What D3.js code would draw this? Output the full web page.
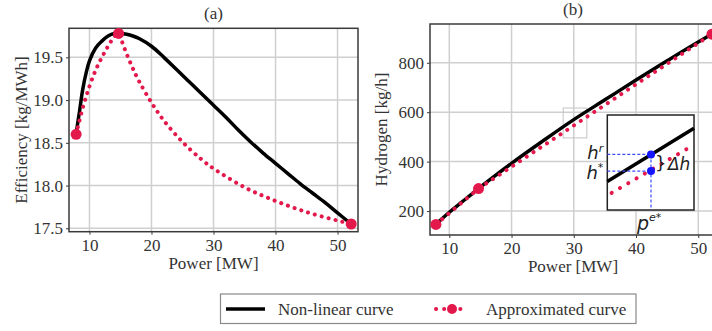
<!DOCTYPE html>
<html>
<head>
<meta charset="utf-8">
<script src="https://cdn.jsdelivr.net/npm/d3@7"></script>
<style>
  body { margin: 0; background: #fff; }
  svg { display: block; }
  text { font-family: "Liberation Serif", "Times New Roman", serif; fill: #333; }
  text.math, text.math tspan { font-family: "DejaVu Sans", sans-serif; font-style: italic; fill: #222; }
</style>
</head>
<body>
<svg id="chart" width="712" height="331"></svg>
<script>
"use strict";

// x ticks shared by both panels
var powerTicks = [10, 20, 30, 40, 50];
var effTicks = [17.5, 18.0, 18.5, 19.0, 19.5];
var hydroTicks = [200, 400, 600, 800];

// (a) non-linear efficiency curve
var powerA = [7.85, 8.1, 8.4, 8.9, 9.5, 10, 11, 12, 13, 14, 15, 16, 17, 18, 20, 22, 24, 26, 28, 30, 32, 34, 36, 38, 40, 42, 44, 46, 48, 50, 52.2];
var effNonLinear = [18.6, 18.73, 18.87, 19.12, 19.33, 19.46, 19.61, 19.69, 19.75, 19.78, 19.78, 19.77, 19.75, 19.72, 19.63, 19.5, 19.36, 19.22, 19.08, 18.94, 18.8, 18.65, 18.51, 18.38, 18.26, 18.14, 18.02, 17.91, 17.8, 17.68, 17.55];

// (a) approximated efficiency curve
var powerApproxA = [7.85, 9, 10, 11, 12, 13, 14, 14.7, 15, 16, 17, 18, 20, 22, 25, 28, 30, 35, 40, 45, 50, 52.2];
var effApprox = [18.6, 18.93, 19.16, 19.35, 19.5, 19.63, 19.74, 19.78, 19.73, 19.54, 19.37, 19.22, 18.97, 18.76, 18.51, 18.31, 18.2, 17.98, 17.82, 17.69, 17.59, 17.55];

// (b) hydrogen production
var powerB = [7.85, 10, 12, 14.7, 17, 20, 25, 30, 35, 40, 45, 50, 52.2];
var hydroNonLinear = [146, 195, 236, 291, 336, 393, 483, 570, 650, 730, 808, 884, 916];

// breakpoints of the piecewise linear approximation
var breakPower = [7.85, 14.7, 52.2];
var breakEff = [18.6, 19.78, 17.55];
var breakHydro = [146, 291, 916];

// zoomed inset (schematic, unit coordinates)
var insetBlack = [[0, 0.30], [1, 0.86]];
var insetRed = [[0.05, 0.18], [0.97, 0.67]];
var insetP = 0.504, insetHr = 0.585, insetHs = 0.41;

var RED = "#e3184b";
var GRID = "#cfcfcf";
var SPINE = "#3a3a3a";
var SERIF = "'Liberation Serif', 'Times New Roman', serif";

var svg = d3.select("#chart");

function panel(opts) {
    var g = svg.append("g");
    var x = d3.scaleLinear().domain(opts.xDomain).range([opts.left, opts.right]);
    var y = d3.scaleLinear().domain(opts.yDomain).range([opts.bottom, opts.top]);

    // grid
    g.append("g").selectAll("line").data(powerTicks).enter().append("line")
        .attr("x1", function(d) { return x(d); }).attr("x2", function(d) { return x(d); })
        .attr("y1", opts.top).attr("y2", opts.bottom)
        .attr("stroke", GRID).attr("stroke-width", 1.5);
    g.append("g").selectAll("line").data(opts.yTicks).enter().append("line")
        .attr("y1", function(d) { return y(d); }).attr("y2", function(d) { return y(d); })
        .attr("x1", opts.left).attr("x2", opts.right)
        .attr("stroke", GRID).attr("stroke-width", 1.5);

    // axes
    var xa = g.append("g").attr("transform", "translate(0," + opts.bottom + ")")
        .call(d3.axisBottom(x).tickValues(powerTicks).tickSize(3).tickPadding(4));
    var ya = g.append("g").attr("transform", "translate(" + opts.left + ",0)")
        .call(d3.axisLeft(y).tickValues(opts.yTicks).tickFormat(opts.yFormat).tickSize(3).tickPadding(3));
    [xa, ya].forEach(function(a) {
        a.attr("font-family", null).attr("font-size", null);
        a.select(".domain").remove();
        a.selectAll(".tick line").attr("stroke", SPINE);
        a.selectAll("text").style("font-family", SERIF)
            .style("font-size", "17px").style("fill", "#333");
    });

    // frame
    g.append("rect").attr("x", opts.left).attr("y", opts.top)
        .attr("width", opts.right - opts.left).attr("height", opts.bottom - opts.top)
        .attr("fill", "none").attr("stroke", SPINE).attr("stroke-width", 1.5);

    // labels
    g.append("text").attr("x", (opts.left + opts.right) / 2).attr("y", opts.top - 9)
        .attr("text-anchor", "middle").attr("font-size", 17).text(opts.title);
    g.append("text").attr("x", (opts.left + opts.right) / 2).attr("y", opts.bottom + 37)
        .attr("text-anchor", "middle").attr("font-size", 17).text("Power [MW]");
    g.append("text")
        .attr("transform", "translate(" + opts.ylabX + "," + (opts.top + opts.bottom) / 2 + ") rotate(-90)")
        .attr("text-anchor", "middle").attr("font-size", 17).text(opts.ylabel);

    return { g: g, x: x, y: y };
}

// ---------- panel (a)
var pa = panel({
    left: 69, right: 358, top: 28.3, bottom: 231.7,
    xDomain: [6.7, 53.3], yDomain: [17.46, 19.84],
    yTicks: effTicks, yFormat: d3.format(".1f"),
    title: "(a)", ylabel: "Efficiency [kg/MWh]", ylabX: 27
});

var lineA = d3.line().x(function(d) { return pa.x(d[0]); }).y(function(d) { return pa.y(d[1]); })
    .curve(d3.curveCatmullRom);
pa.g.append("path").datum(d3.zip(powerA, effNonLinear)).attr("d", lineA)
    .attr("fill", "none").attr("stroke", "#000").attr("stroke-width", 3.5);
pa.g.append("path").datum(d3.zip(powerApproxA, effApprox)).attr("d", lineA)
    .attr("fill", "none").attr("stroke", RED).attr("stroke-width", 4)
    .attr("stroke-linecap", "round").attr("stroke-dasharray", "0.1 7");
pa.g.selectAll("circle.bp").data(d3.zip(breakPower, breakEff)).enter().append("circle")
    .attr("cx", function(d) { return pa.x(d[0]); }).attr("cy", function(d) { return pa.y(d[1]); })
    .attr("r", 5.5).attr("fill", RED);

// ---------- panel (b)
var pb = panel({
    left: 430, right: 716, top: 24, bottom: 235,
    xDomain: [6.9, 52.85], yDomain: [103, 957],
    yTicks: hydroTicks, yFormat: d3.format("d"),
    title: "(b)", ylabel: "Hydrogen [kg/h]", ylabX: 387
});

var lineB = d3.line().x(function(d) { return pb.x(d[0]); }).y(function(d) { return pb.y(d[1]); });

// small zoom box
pb.g.append("rect").attr("x", pb.x(28.3)).attr("y", pb.y(617))
    .attr("width", pb.x(32.1) - pb.x(28.3)).attr("height", pb.y(496) - pb.y(617))
    .attr("fill", "none").attr("stroke", "#c4c4c4").attr("stroke-width", 1);

pb.g.append("path").datum(d3.zip(powerB, hydroNonLinear)).attr("d", lineB.curve(d3.curveMonotoneX))
    .attr("fill", "none").attr("stroke", "#000").attr("stroke-width", 3.5);
pb.g.append("path").datum(d3.zip(breakPower, breakHydro)).attr("d", lineB.curve(d3.curveLinear))
    .attr("fill", "none").attr("stroke", RED).attr("stroke-width", 4)
    .attr("stroke-linecap", "round").attr("stroke-dasharray", "0.1 8");
pb.g.selectAll("circle.bp").data(d3.zip(breakPower, breakHydro)).enter().append("circle")
    .attr("cx", function(d) { return pb.x(d[0]); }).attr("cy", function(d) { return pb.y(d[1]); })
    .attr("r", 5.5).attr("fill", RED);

// inset
var ix = d3.scaleLinear().domain([0, 1]).range([607.3, 694]);
var iy = d3.scaleLinear().domain([0, 1]).range([210, 115]);
var ig = svg.append("g");
ig.append("rect").attr("x", ix(0)).attr("y", iy(1)).attr("width", ix(1) - ix(0)).attr("height", iy(0) - iy(1))
    .attr("fill", "#fff").attr("stroke", "#222").attr("stroke-width", 1.5);
var iline = d3.line().x(function(d) { return ix(d[0]); }).y(function(d) { return iy(d[1]); });
ig.append("path").datum(insetBlack).attr("d", iline)
    .attr("stroke", "#000").attr("stroke-width", 3.5).attr("fill", "none");
ig.append("path").datum(insetRed).attr("d", iline)
    .attr("stroke", RED).attr("stroke-width", 4).attr("fill", "none")
    .attr("stroke-linecap", "round").attr("stroke-dasharray", "0.1 9.5");
var BLUE = "#3b4cff";
[insetHr, insetHs].forEach(function(h) {
    ig.append("line").attr("x1", ix(0)).attr("x2", ix(insetP)).attr("y1", iy(h)).attr("y2", iy(h))
        .attr("stroke", BLUE).attr("stroke-width", 1.2).attr("stroke-dasharray", "3 2");
});
ig.append("line").attr("x1", ix(insetP)).attr("x2", ix(insetP)).attr("y1", iy(insetHr)).attr("y2", iy(0))
    .attr("stroke", BLUE).attr("stroke-width", 1.2).attr("stroke-dasharray", "3 2");
[insetHr, insetHs].forEach(function(h) {
    ig.append("circle").attr("cx", ix(insetP)).attr("cy", iy(h)).attr("r", 4).attr("fill", "#1515ff");
});
// inset labels
var hr = ig.append("text").attr("class", "math").attr("x", ix(0) - 4).attr("y", iy(insetHr) + 5)
    .attr("text-anchor", "end").attr("font-size", 18).text("h");
hr.append("tspan").attr("dy", -7).attr("font-size", 11).text("r");
var hs = ig.append("text").attr("class", "math").attr("x", ix(0) - 4).attr("y", iy(insetHs) + 8)
    .attr("text-anchor", "end").attr("font-size", 18).text("h");
hs.append("tspan").attr("dy", -8).attr("font-size", 11).text("*");
var midH = iy((insetHr + insetHs) / 2);
ig.append("text").attr("x", ix(insetP) + 4).attr("y", midH + 6)
    .style("font-family", "'DejaVu Sans', sans-serif").attr("font-size", 18).style("fill", "#222")
    .text("}");
ig.append("text").attr("class", "math").attr("x", ix(insetP) + 17).attr("y", midH + 7)
    .attr("font-size", 17).text("Δh");
var pe = ig.append("text").attr("class", "math").attr("x", ix(insetP) - 14).attr("y", iy(0) + 20)
    .attr("font-size", 19).text("p");
pe.append("tspan").attr("dy", -9).attr("font-size", 11).text("e*");

// ---------- legend
var lg = svg.append("g");
lg.append("rect").attr("x", 220.5).attr("y", 294).attr("width", 415.5).attr("height", 29.5)
    .attr("fill", "#fff").attr("stroke", "#8a8a8a").attr("stroke-width", 1.2);
lg.append("line").attr("x1", 226).attr("x2", 265).attr("y1", 309).attr("y2", 309)
    .attr("stroke", "#000").attr("stroke-width", 3.5);
lg.append("text").attr("x", 278).attr("y", 315).attr("font-size", 17).text("Non-linear curve");
lg.append("line").attr("x1", 436).attr("x2", 468).attr("y1", 309).attr("y2", 309)
    .attr("stroke", RED).attr("stroke-width", 4).attr("stroke-linecap", "round").attr("stroke-dasharray", "0.1 8");
lg.append("circle").attr("cx", 452).attr("cy", 309).attr("r", 5).attr("fill", RED);
lg.append("text").attr("x", 486).attr("y", 315).attr("font-size", 17).text("Approximated curve");
</script>
</body>
</html>
